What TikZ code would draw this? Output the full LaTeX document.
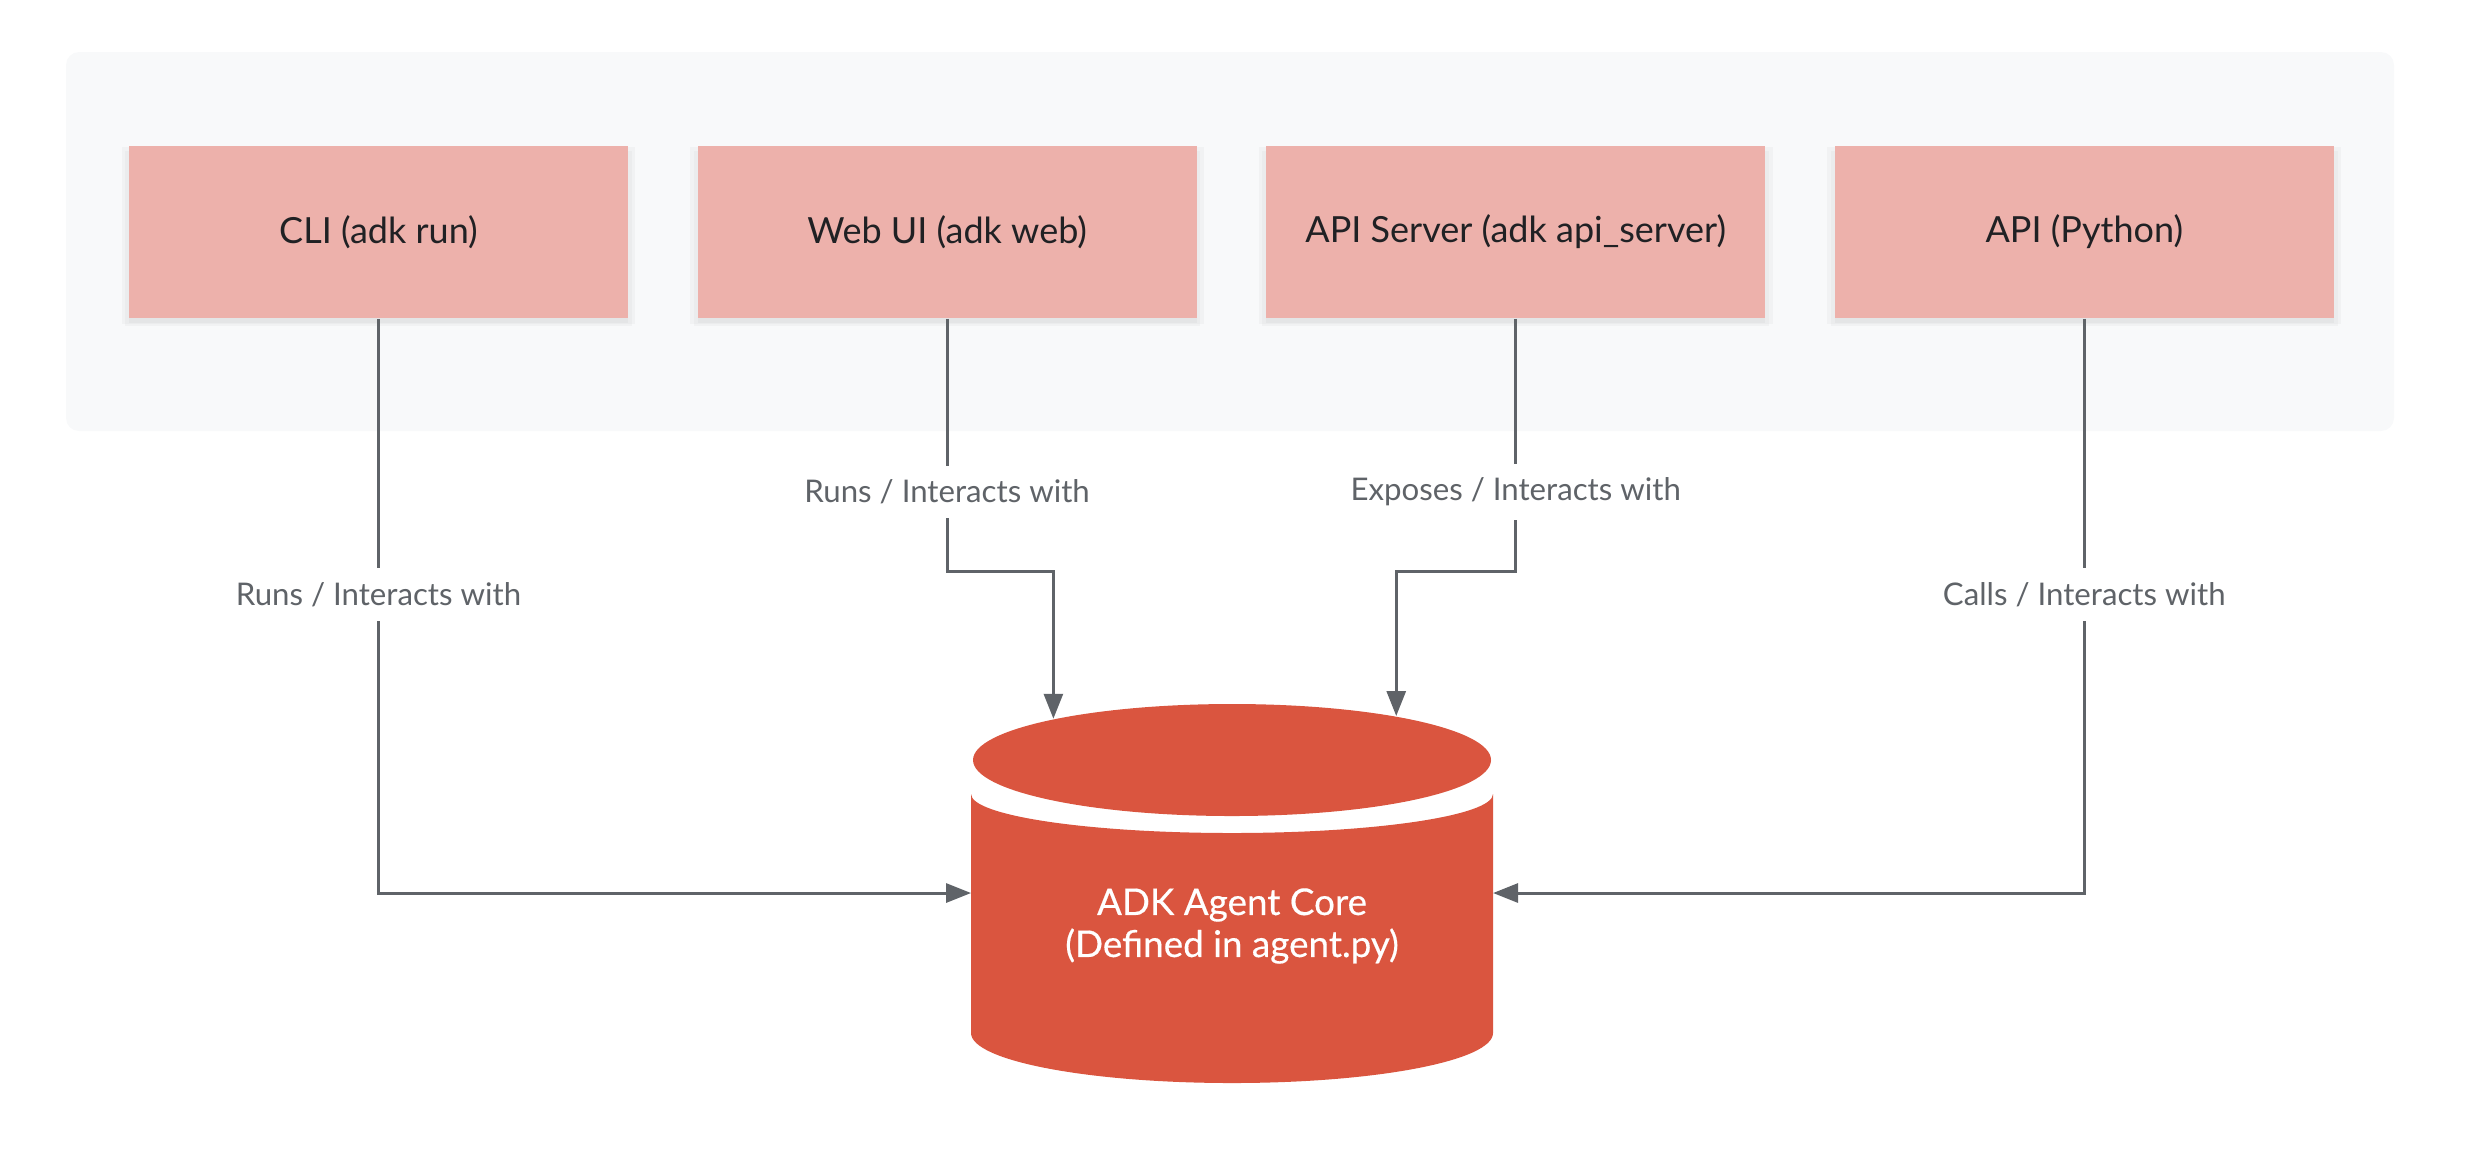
\documentclass[tikz,border=0pt]{standalone}
\usepackage{fontspec}
\setmainfont{Lato}
\usepackage{tikz}
\usetikzlibrary{arrows.meta,positioning,shapes.geometric,shadows}
\definecolor{panelgray}{HTML}{F8F9FA}
\definecolor{boxpink}{HTML}{EDB1AB}
\definecolor{corered}{HTML}{DA553F}
\definecolor{linegray}{HTML}{5F6368}
\definecolor{textdark}{HTML}{202124}

\begin{document}
\begin{tikzpicture}[x=0.25pt,y=-0.25pt,
	entry/.style={rectangle,fill=boxpink,minimum width=124.75pt,minimum height=43pt,inner sep=0pt,text=textdark,font=\fontsize{9pt}{10.8pt}\selectfont,
		drop shadow={opacity=0.05,shadow xshift=0pt,shadow yshift=-0.8pt,shadow scale=1.03},
		drop shadow={opacity=0.05,shadow xshift=0pt,shadow yshift=-1.6pt,shadow scale=1.015},
		drop shadow={opacity=0.06,shadow xshift=0pt,shadow yshift=-1.2pt}},
	conn/.style={draw=linegray,line width=0.75pt,-{Triangle[length=6.25pt,width=4.75pt]}},
	lbl/.style={fill=white,text=linegray,inner xsep=2pt,inner ysep=3.5pt,font=\fontsize{7.8pt}{9.4pt}\selectfont},
	coretxt/.style={text=white,align=center,font=\fontsize{9.2pt}{10.5pt}\selectfont\addfontfeature{FakeBold=0.4}}]
	\useasboundingbox (0,0) rectangle (2468,1148);
	% panel behind the four entry points
	\fill[panelgray,rounded corners=3.25pt] (66,52) rectangle (2394,431);

	\node[entry] (cli) at (378.5,232) {CLI (adk run)};
	\node[entry,right=17pt of cli] (web) {Web UI (adk web)};
	\node[entry,right=17pt of web] (apis) {API Server (adk api\_server)};
	\node[entry,right=17pt of apis] (api) {API (Python)};

	% agent core cylinder
	\fill[corered] (971,794) -- (971,1033) arc[start angle=180,end angle=360,x radius=65.25pt,y radius=12.5pt] -- (1493,794) arc[start angle=360,end angle=180,x radius=65.25pt,y radius=9.75pt] -- cycle;
	\node[ellipse,fill=corered,minimum width=129.5pt,minimum height=28pt,inner sep=0pt] (coretop) at (1232,760) {};
	\node[coretxt] (core) at (1232,926) {ADK Agent Core\\(Defined in agent.py)};
	\coordinate (coreW) at (971,893);
	\coordinate (coreE) at (1493,893);

	\begin{scope}
	\draw[conn] (cli.south) |- node[lbl,pos=0.24] {Runs / Interacts with} (coreW);
	\draw[conn] (web.south) -- node[lbl,pos=0.684] {Runs / Interacts with} ++(0,253) -| (coretop.167);
	\draw[conn] (apis.south) -- node[lbl,pos=0.684] {Exposes / Interacts with} ++(0,253) -| (coretop.15);
	\draw[conn] (api.south) |- node[lbl,pos=0.24] {Calls / Interacts with} (coreE);
	\end{scope}
\end{tikzpicture}
\end{document}
